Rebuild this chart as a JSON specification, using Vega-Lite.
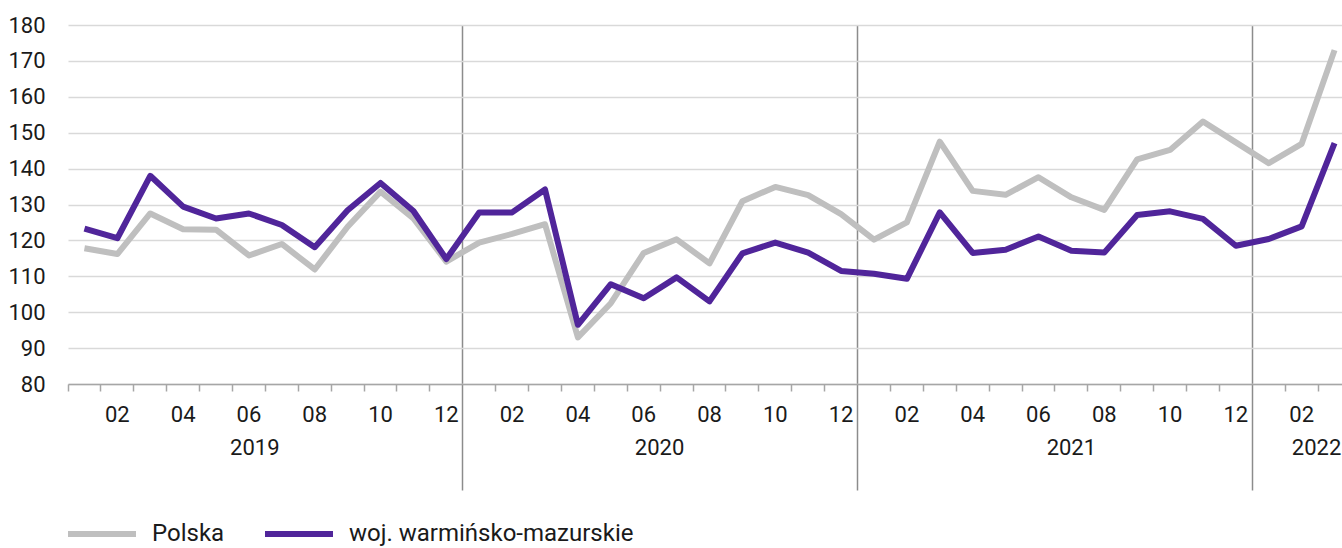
{
  "$schema": "https://vega.github.io/schema/vega-lite/v6.json",
  "width": 1274,
  "height": 359,
  "autosize": "none",
  "padding": {"left": 68, "top": 25, "right": 0, "bottom": 164},
  "background": "white",
  "config": {"view": {"stroke": null}, "font": "Roboto"},
  "data": {"values": [
    {"m":"2019-01","s":"Polska","v":117.8},{"m":"2019-02","s":"Polska","v":116.2},{"m":"2019-03","s":"Polska","v":127.5},{"m":"2019-04","s":"Polska","v":123.1},{"m":"2019-05","s":"Polska","v":123.0},{"m":"2019-06","s":"Polska","v":115.8},{"m":"2019-07","s":"Polska","v":119.0},{"m":"2019-08","s":"Polska","v":111.9},{"m":"2019-09","s":"Polska","v":123.8},{"m":"2019-10","s":"Polska","v":133.6},{"m":"2019-11","s":"Polska","v":126.1},{"m":"2019-12","s":"Polska","v":114.1},
    {"m":"2020-01","s":"Polska","v":119.4},{"m":"2020-02","s":"Polska","v":121.8},{"m":"2020-03","s":"Polska","v":124.5},{"m":"2020-04","s":"Polska","v":93.0},{"m":"2020-05","s":"Polska","v":102.5},{"m":"2020-06","s":"Polska","v":116.5},{"m":"2020-07","s":"Polska","v":120.3},{"m":"2020-08","s":"Polska","v":113.6},{"m":"2020-09","s":"Polska","v":130.9},{"m":"2020-10","s":"Polska","v":134.9},{"m":"2020-11","s":"Polska","v":132.6},{"m":"2020-12","s":"Polska","v":127.3},
    {"m":"2021-01","s":"Polska","v":120.2},{"m":"2021-02","s":"Polska","v":125.0},{"m":"2021-03","s":"Polska","v":147.5},{"m":"2021-04","s":"Polska","v":133.8},{"m":"2021-05","s":"Polska","v":132.7},{"m":"2021-06","s":"Polska","v":137.6},{"m":"2021-07","s":"Polska","v":132.0},{"m":"2021-08","s":"Polska","v":128.5},{"m":"2021-09","s":"Polska","v":142.6},{"m":"2021-10","s":"Polska","v":145.2},{"m":"2021-11","s":"Polska","v":153.1},{"m":"2021-12","s":"Polska","v":147.3},
    {"m":"2022-01","s":"Polska","v":141.5},{"m":"2022-02","s":"Polska","v":146.9},{"m":"2022-03","s":"Polska","v":173.0},
    {"m":"2019-01","s":"woj. warmińsko-mazurskie","v":123.3},{"m":"2019-02","s":"woj. warmińsko-mazurskie","v":120.6},{"m":"2019-03","s":"woj. warmińsko-mazurskie","v":138.0},{"m":"2019-04","s":"woj. warmińsko-mazurskie","v":129.4},{"m":"2019-05","s":"woj. warmińsko-mazurskie","v":126.1},{"m":"2019-06","s":"woj. warmińsko-mazurskie","v":127.5},{"m":"2019-07","s":"woj. warmińsko-mazurskie","v":124.3},{"m":"2019-08","s":"woj. warmińsko-mazurskie","v":118.1},{"m":"2019-09","s":"woj. warmińsko-mazurskie","v":128.4},{"m":"2019-10","s":"woj. warmińsko-mazurskie","v":136.0},{"m":"2019-11","s":"woj. warmińsko-mazurskie","v":128.2},{"m":"2019-12","s":"woj. warmińsko-mazurskie","v":114.8},
    {"m":"2020-01","s":"woj. warmińsko-mazurskie","v":127.8},{"m":"2020-02","s":"woj. warmińsko-mazurskie","v":127.8},{"m":"2020-03","s":"woj. warmińsko-mazurskie","v":134.2},{"m":"2020-04","s":"woj. warmińsko-mazurskie","v":96.5},{"m":"2020-05","s":"woj. warmińsko-mazurskie","v":107.8},{"m":"2020-06","s":"woj. warmińsko-mazurskie","v":103.9},{"m":"2020-07","s":"woj. warmińsko-mazurskie","v":109.7},{"m":"2020-08","s":"woj. warmińsko-mazurskie","v":103.0},{"m":"2020-09","s":"woj. warmińsko-mazurskie","v":116.4},{"m":"2020-10","s":"woj. warmińsko-mazurskie","v":119.4},{"m":"2020-11","s":"woj. warmińsko-mazurskie","v":116.6},{"m":"2020-12","s":"woj. warmińsko-mazurskie","v":111.5},
    {"m":"2021-01","s":"woj. warmińsko-mazurskie","v":110.7},{"m":"2021-02","s":"woj. warmińsko-mazurskie","v":109.3},{"m":"2021-03","s":"woj. warmińsko-mazurskie","v":127.8},{"m":"2021-04","s":"woj. warmińsko-mazurskie","v":116.5},{"m":"2021-05","s":"woj. warmińsko-mazurskie","v":117.4},{"m":"2021-06","s":"woj. warmińsko-mazurskie","v":121.1},{"m":"2021-07","s":"woj. warmińsko-mazurskie","v":117.1},{"m":"2021-08","s":"woj. warmińsko-mazurskie","v":116.6},{"m":"2021-09","s":"woj. warmińsko-mazurskie","v":127.1},{"m":"2021-10","s":"woj. warmińsko-mazurskie","v":128.1},{"m":"2021-11","s":"woj. warmińsko-mazurskie","v":126.0},{"m":"2021-12","s":"woj. warmińsko-mazurskie","v":118.5},
    {"m":"2022-01","s":"woj. warmińsko-mazurskie","v":120.4},{"m":"2022-02","s":"woj. warmińsko-mazurskie","v":123.9},{"m":"2022-03","s":"woj. warmińsko-mazurskie","v":147.1}
  ]},
  "encoding": {
    "y": {
      "field": "v", "type": "quantitative",
      "scale": {"domain": [80, 180], "nice": false, "zero": false},
      "axis": {
        "values": [80, 90, 100, 110, 120, 130, 140, 150, 160, 170, 180],
        "ticks": false, "tickSize": 0, "domain": false,
        "grid": true, "gridColor": "#d9d9d9", "gridWidth": 1.5,
        "labelFont": "Roboto", "labelFontSize": 22, "labelColor": "#1a1a1a", "labelPadding": 23,
        "title": null
      }
    },
    "color": {
      "field": "s", "type": "nominal",
      "scale": {"domain": ["Polska", "woj. warmińsko-mazurskie"], "range": ["#bfbfbf", "#50259a"]},
      "legend": {
        "orient": "none", "legendX": -3, "legendY": 472, "direction": "horizontal",
        "title": null, "symbolType": "stroke", "symbolSize": 4624, "symbolStrokeWidth": 6,
        "labelFont": "Roboto", "labelFontSize": 24, "labelColor": "#1a1a1a", "labelLimit": 0,
        "labelOffset": 13, "columnPadding": 28
      }
    }
  },
  "layer": [
    {
      "transform": [{"filter": "datum.s == 'Polska'"}],
      "mark": {"type": "line", "strokeWidth": 6, "strokeJoin": "round"},
      "encoding": {
        "x": {
          "field": "m", "type": "ordinal",
          "scale": {"type": "band", "range": [0, 1283], "paddingInner": 0, "paddingOuter": 0},
          "axis": {
            "orient": "bottom", "bandPosition": 0, "labels": false, "ticks": true,
            "tickSize": {"condition": {"test": "slice(datum.value,5)=='01' && datum.value!='2019-01'", "value": 106}, "value": 7},
            "tickColor": {"condition": {"test": "slice(datum.value,5)=='01' && datum.value!='2019-01'", "value": "#8c8c8c"}, "value": "#a6a6a6"},
            "tickWidth": 1.5,
            "domain": true, "domainColor": "#a6a6a6", "domainWidth": 1.5,
            "grid": true, "gridColor": "#8c8c8c", "gridWidth": 1.5,
            "gridOpacity": {"condition": {"test": "slice(datum.value,5)=='01' && datum.value!='2019-01'", "value": 1}, "value": 0},
            "title": null
          }
        }
      }
    },
    {
      "transform": [{"filter": "datum.s != 'Polska'"}],
      "mark": {"type": "line", "strokeWidth": 6, "strokeJoin": "round"},
      "encoding": {
        "x": {
          "field": "m", "type": "ordinal",
          "axis": {
            "orient": "bottom", "bandPosition": 0.5, "ticks": false, "tickSize": 0,
            "domain": false, "grid": false, "labelOverlap": false,
            "labelExpr": "datum.value=='2019-07' ? [' ','2019'] : datum.value=='2020-07' ? [' ','2020'] : datum.value=='2021-07' ? [' ','2021'] : datum.value=='2022-03' ? [' ','2022'] : (toNumber(slice(datum.value,5)) % 2 == 0 ? slice(datum.value,5) : '')",
            "labelFont": "Roboto", "labelFontSize": 22, "labelColor": "#1a1a1a",
            "labelPadding": 20, "labelLineHeight": 33, "labelAngle": 0,
            "labelOffset": {"condition": [
              {"test": "datum.value=='2019-07'", "value": -27},
              {"test": "datum.value=='2020-07'", "value": -17},
              {"test": "datum.value=='2022-03'", "value": -18}
            ], "value": 0},
            "title": null
          }
        }
      }
    }
  ],
  "resolve": {"axis": {"x": "independent"}}
}
